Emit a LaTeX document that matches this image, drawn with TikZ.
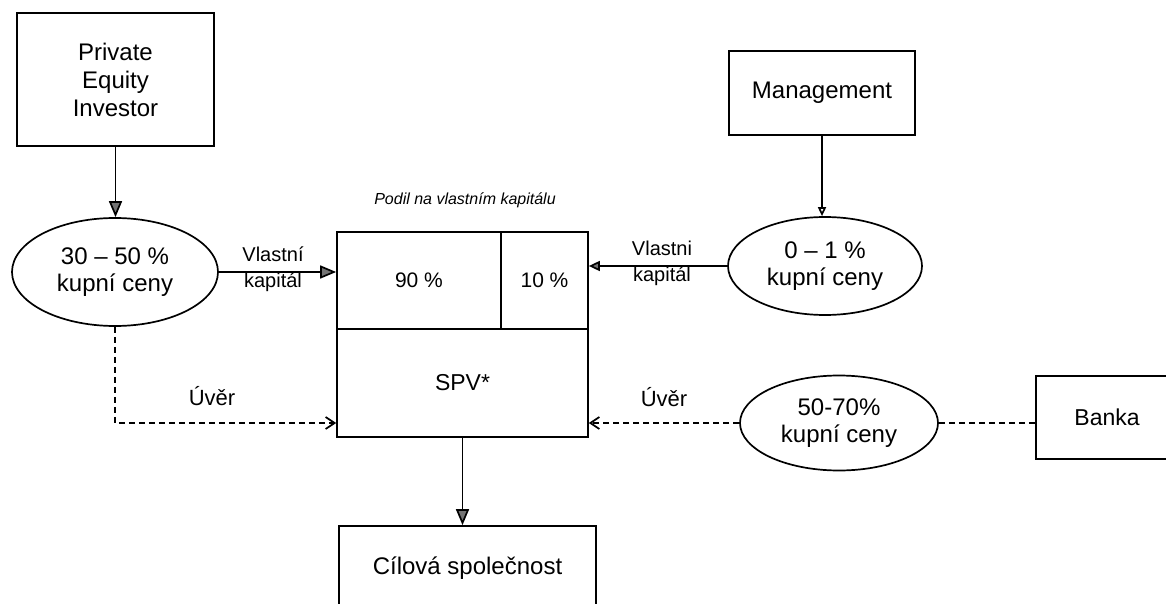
\documentclass[tikz,border=0pt]{standalone}
\usepackage{fontspec}
\setmainfont{Liberation Sans}
\usetikzlibrary{shapes.geometric,arrows.meta}
\begin{document}
\begin{tikzpicture}[x=0.5pt,y=-0.5pt,
  every node/.style={inner sep=0pt, align=center},
  box/.style={draw, rectangle, line width=0.85pt},
  ell/.style={draw, ellipse, line width=0.85pt},
  big/.style={font=\fontsize{12}{13.5}\selectfont},
  mid/.style={font=\fontsize{10}{13}\selectfont},
  conn/.style={line width=0.85pt},
  headbig/.style={-{Triangle[length=8pt,width=6.5pt,fill=black!55]}},
  headmid/.style={-{Triangle[length=5.5pt,width=5pt,fill=black!55]}},
  headsmall/.style={-{Triangle[length=4.5pt,width=4pt,fill=white]}},
  dashline/.style={line width=0.85pt, dash pattern=on 3pt off 2pt},
  barb/.style={-{Straight Barb[length=4.5pt,width=6pt]}},
]
\useasboundingbox (0,0) rectangle (1166,604);
\fill[white] (0,0) rectangle (1166,604);
\clip (0,0) rectangle (1166,604);

% boxes
\node[box, font=\fontsize{12}{14}\selectfont, minimum width=98.5pt, minimum height=66.5pt] (pe) at (115.5,79.5) {Private\\Equity\\Investor};
\node[box, big, minimum width=93pt, minimum height=42pt] (mg) at (822,93) {Management};
\node[box, big, minimum width=128.5pt, minimum height=42pt] (target) at (467.5,568) {Cílová společnost};
\node[box, font=\fontsize{11.5}{13}\selectfont, minimum width=71pt, minimum height=41.5pt] (bank) at (1107,417.5) {Banka};

% SPV box cells
\node[box, font=\fontsize{10.5}{12}\selectfont, minimum width=82pt, minimum height=48.5pt] (c90) at (419,280.5) {90 \%};
\node[box, font=\fontsize{10.5}{12}\selectfont, minimum width=43.5pt, minimum height=48.5pt] (c10) at (544.5,280.5) {10 \%};
\node[box, font=\fontsize{11.5}{13}\selectfont, minimum width=125.5pt, minimum height=54pt] (lower) at (462.5,383) {SPV*};
\node[font=\fontsize{8}{9}\selectfont\itshape] (podil) at (465,200) {Podil na vlastním kapitálu};

% ellipses
\node[ell, big, minimum width=103pt, minimum height=54pt] (e1) at (115,272) {30 – 50 \%\\kupní ceny};
\node[ell, big, minimum width=97pt, minimum height=49pt] (e2) at (825,266) {0 – 1 \%\\kupní ceny};
\node[ell, big, minimum width=99pt, minimum height=47.5pt] (e3) at (839,423) {50-70\%\\kupní ceny};

% labels
\node[mid] (vk1) at (273,269) {Vlastní\\kapitál};
\node[mid] (vk2) at (662,263) {Vlastni\\kapitál};
\node[font=\fontsize{11}{13}\selectfont] (u1) at (212,396) {Úvěr};
\node[font=\fontsize{11}{13}\selectfont] (u2) at (664,397) {Úvěr};

% connectors
\draw[conn, headbig] (pe.south) -- (pe.south |- e1.north);
\draw[conn, headsmall] (mg.south) -- (mg.south |- e2.north);
\draw[conn, headbig] (e1.east) -- (e1.east -| c90.west);
\draw[conn, headmid] (e2.west) -- (e2.west -| c10.east);
\draw[conn, headbig] (lower.south) -- (lower.south |- target.north);
\draw[dashline, barb] (e1.south) |- (lower.west |- e3.west);
\draw[dashline, barb] (e3.west) -- (e3.west -| lower.east);
\draw[dashline] (e3.east) -- (e3.east -| bank.west);
\end{tikzpicture}
\end{document}
